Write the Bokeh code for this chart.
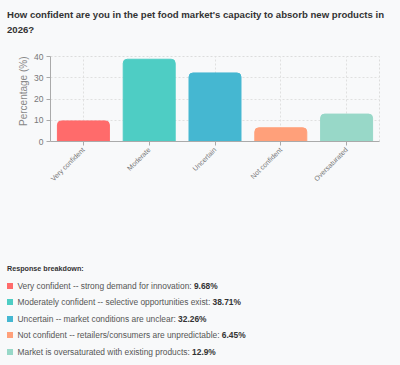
from math import pi
from bokeh.plotting import figure
from bokeh.models import (ColumnDataSource, Range1d, FixedTicker, Title, Div,
                          GlobalInlineStyleSheet)
from bokeh.layouts import column
from bokeh.embed import file_html
from bokeh.resources import INLINE

# ---- data ----
title_text = "How confident are you in the pet food market's capacity to absorb new products in"
title_text2 = "2026?"
categories = ["Very confident", "Moderate", "Uncertain", "Not confident", "Oversaturated"]
percentages = [9.68, 38.71, 32.26, 6.45, 12.9]
colors = ["#FF6B6B", "#4ECDC4", "#45B7D1", "#FFA07A", "#98D8C8"]
descriptions = [
    "Very confident -- strong demand for innovation:",
    "Moderately confident -- selective opportunities exist:",
    "Uncertain -- market conditions are unclear:",
    "Not confident -- retailers/consumers are unpredictable:",
    "Market is oversaturated with existing products:",
]
value_labels = ["9.68%", "38.71%", "32.26%", "6.45%", "12.9%"]
y_ticks = [0, 10, 20, 30, 40]

BG = "#f8f9fa"
FONT = "'Liberation Sans', Arial, Helvetica, sans-serif"

title = Div(
    text=(f'<div style="font-family:{FONT};font-weight:bold;font-size:9.6px;'
          f'color:#333;line-height:14.5px;white-space:nowrap;padding:8px 0 0 7px;">'
          f'{title_text}<br>{title_text2}</div>'),
    width=400, height=45, margin=(0, 0, 0, 0),
)

src = ColumnDataSource(dict(cat=categories, val=percentages, color=colors))

p = figure(
    x_range=categories, y_range=Range1d(0, 40),
    width=400, height=210,
    output_backend="svg", toolbar_location=None,
    min_border_left=50, min_border_right=21, min_border_top=11, min_border_bottom=114,
    background_fill_color=BG, border_fill_color=BG,
)
p.vbar(x="cat", top="val", width=0.79, source=src, fill_color="color",
       line_color="color", border_radius=(4, 4, 0, 0))

p.outline_line_color = "#dcdcdc"
p.outline_line_dash = "2 2"
for g in (p.xgrid, p.ygrid):
    g.grid_line_color = "#e0e0e0"
    g.grid_line_dash = "2 2"

p.yaxis.ticker = FixedTicker(ticks=y_ticks)
p.yaxis.minor_tick_line_color = None
p.yaxis.major_tick_in = 0
p.yaxis.major_tick_out = 4
p.yaxis.major_label_text_font_size = "8.5px"
p.yaxis.major_label_standoff = 3

p.xaxis.major_tick_in = 0
p.xaxis.major_tick_out = 4
p.xaxis.major_label_orientation = pi / 4
p.xaxis.major_label_text_font_size = "7px"
p.xaxis.major_label_standoff = 3

for ax in (p.xaxis, p.yaxis):
    ax.axis_line_color = "#aaaaaa"
    ax.major_tick_line_color = "#aaaaaa"
    ax.major_label_text_color = "#777777"
    ax.major_label_text_font = "Liberation Sans"

p.add_layout(Title(text="Percentage (%)", align="right", text_font_size="10px",
                   text_font_style="normal", text_color="#888888",
                   text_font="Liberation Sans", standoff=6), "left")

rows = []
for d, v, c in zip(descriptions, value_labels, colors):
    rows.append(
        f'<div style="display:flex;align-items:center;height:16.6px;">'
        f'<span style="display:inline-block;width:6px;height:6px;background:{c};margin-right:4.5px;"></span>'
        f'<span>{d} <b style="color:#333;">{v}</b></span></div>'
    )
breakdown = Div(
    text=(f'<div style="font-family:{FONT};font-size:8.4px;color:#555;padding:5.7px 0 0 7px;">'
          f'<div style="height:16.6px;line-height:16.6px;font-weight:bold;color:#333;font-size:7.2px;">Response breakdown:</div>'
          + "".join(rows) + '</div>'),
    width=400, height=110, margin=(0, 0, 0, 0),
)

layout = column(title, p, breakdown, spacing=0,
                stylesheets=[GlobalInlineStyleSheet(css=f"html, body {{ background: {BG}; }}")])

open("out.html", "w").write(file_html(layout, INLINE))
